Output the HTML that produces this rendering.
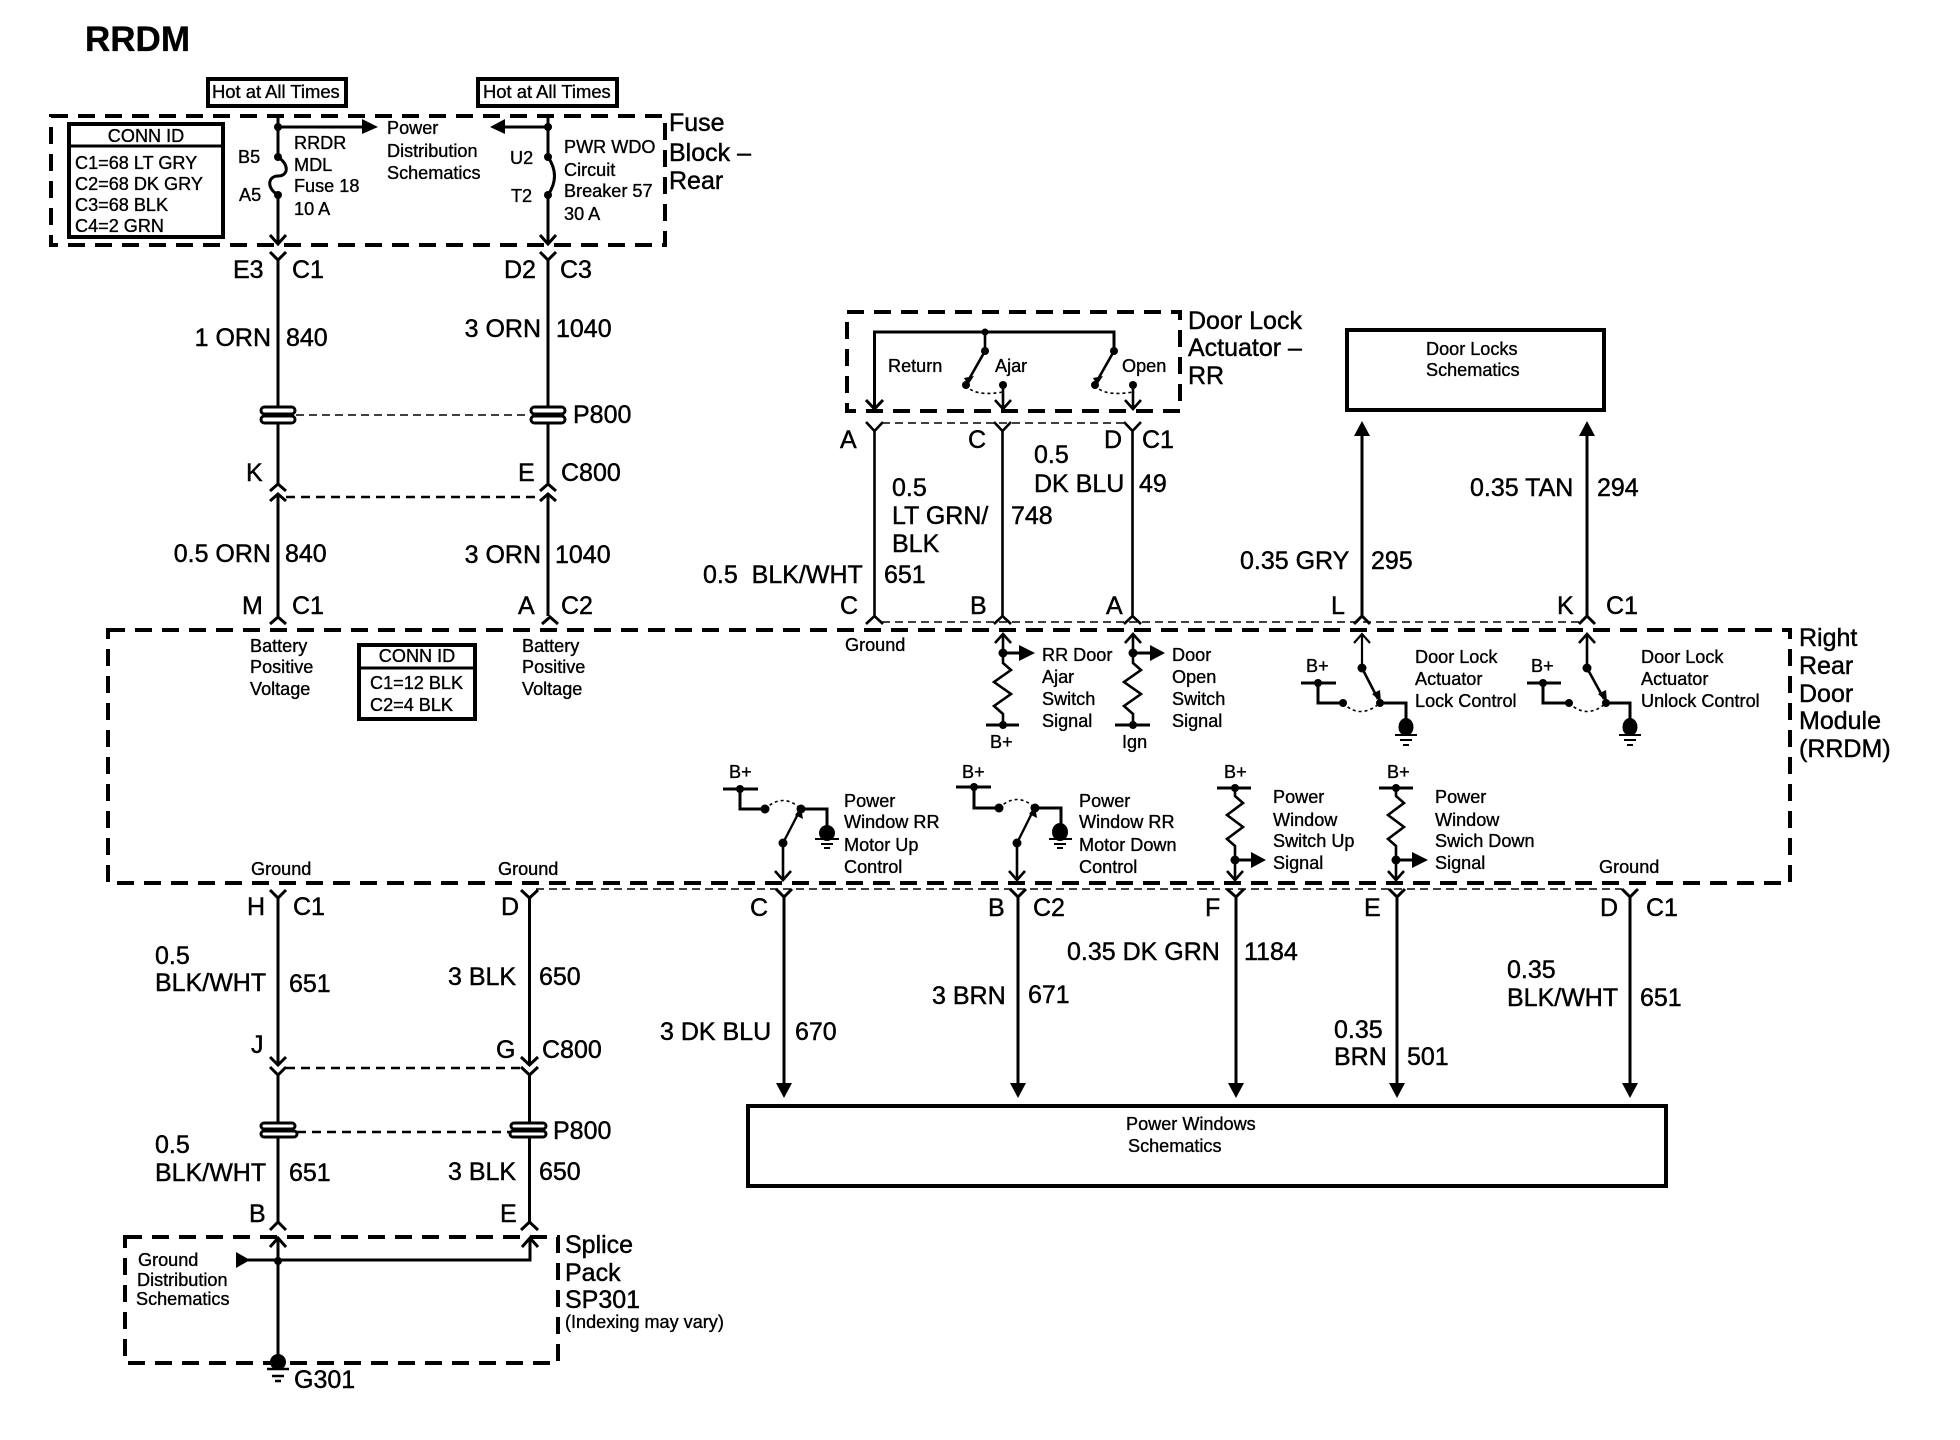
<!DOCTYPE html>
<html><head><meta charset="utf-8"><title>RRDM</title>
<style>
html,body{margin:0;padding:0;background:#fff}
svg{display:block}
text{font-family:"Liberation Sans",Arial,sans-serif;fill:#000;stroke:#000}
.s{font-size:18.1px;stroke-width:.35px}
.l{font-size:25px;stroke-width:.45px}
.t{font-size:35px;font-weight:bold;stroke-width:.3px}
.w{fill:none;stroke:#000;stroke-width:3}
.n{fill:none;stroke:#000;stroke-width:2}
.d{fill:none;stroke:#000;stroke-width:4;stroke-dasharray:17 10}
.h{fill:none;stroke:#000;stroke-width:1.6;stroke-dasharray:8 5}
.h2{fill:none;stroke:#000;stroke-width:2.4;stroke-dasharray:9 6}
.a{fill:none;stroke:#000;stroke-width:1.6;stroke-dasharray:3 3}
.b{fill:none;stroke:#000;stroke-width:4}
.c{fill:#fff;stroke:#000;stroke-width:3}
.f{fill:#000;stroke:none}
</style></head><body>
<svg width="1960" height="1440" viewBox="0 0 1960 1440" xmlns="http://www.w3.org/2000/svg">
<rect width="1960" height="1440" fill="#fff"/>
<text class="t" x="85" y="51">RRDM</text>

<!-- hot boxes -->
<rect class="b" x="208" y="79" width="138" height="27"/>
<rect class="b" x="478" y="79" width="139" height="27"/>
<text class="s" x="212" y="98" style="font-size:18.4px">Hot at All Times</text>
<text class="s" x="483" y="98" style="font-size:18.4px">Hot at All Times</text>

<!-- fuse block -->
<rect class="d" x="51" y="116" width="614" height="129"/>
<rect class="b" x="69" y="124" width="154" height="113"/>
<path class="n" d="M69,146H223" style="stroke-width:3"/>
<text class="s" x="146" y="142" text-anchor="middle">CONN ID</text>
<text class="s" x="75" y="169">C1=68 LT GRY</text>
<text class="s" x="75" y="190">C2=68 DK GRY</text>
<text class="s" x="75" y="211">C3=68 BLK</text>
<text class="s" x="75" y="232">C4=2 GRN</text>

<path class="w" d="M278,116V157C290,165 288,176 278,176C268,176 266,188 278,195V243M278,127H364"/>
<path class="f" d="M362,119L378,127L362,134Z"/>
<circle class="f" cx="278" cy="127" r="4"/><circle class="f" cx="278" cy="157" r="4"/><circle class="f" cx="278" cy="195" r="4"/>
<path class="w" d="M270,235L278,244L286,235"/>
<path class="w" d="M548,116V157Q561,176 548,195V243M548,127H503"/>
<path class="f" d="M505,119L490,127L505,134Z"/>
<circle class="f" cx="548" cy="127" r="4"/><circle class="f" cx="548" cy="157" r="4"/><circle class="f" cx="548" cy="195" r="4"/>
<path class="w" d="M540,235L548,244L556,235"/>

<text class="s" x="238" y="163">B5</text>
<text class="s" x="239" y="201">A5</text>
<text class="s" x="294" y="149">RRDR</text>
<text class="s" x="294" y="171">MDL</text>
<text class="s" x="294" y="192">Fuse 18</text>
<text class="s" x="294" y="215">10 A</text>
<text class="s" x="387" y="134">Power</text>
<text class="s" x="387" y="157">Distribution</text>
<text class="s" x="387" y="179">Schematics</text>
<text class="s" x="510" y="164">U2</text>
<text class="s" x="511" y="202">T2</text>
<text class="s" x="564" y="153">PWR WDO</text>
<text class="s" x="564" y="176">Circuit</text>
<text class="s" x="564" y="197">Breaker 57</text>
<text class="s" x="564" y="220">30 A</text>
<text class="l" x="669" y="131">Fuse</text>
<text class="l" x="669" y="161">Block –</text>
<text class="l" x="669" y="189">Rear</text>

<!-- upper left wires -->
<path class="w" d="M270,252L278,260L286,252M278,260V484M270,491L278,484L286,491M270,501L278,494L286,501M278,494V616M270,624L278,617L286,624"/>
<path class="w" d="M540,252L548,260L556,252M548,260V484M540,491L548,484L556,491M540,501L548,494L556,501M548,494V616M542,624L550,617L558,624"/>
<path class="h" d="M296,415H530"/>
<path class="h2" d="M286,497H540"/>
<rect class="c" x="261" y="407" width="34" height="7" rx="3.5"/><rect class="c" x="261" y="416" width="34" height="7" rx="3.5"/>
<rect class="c" x="531" y="407" width="34" height="7" rx="3.5"/><rect class="c" x="531" y="416" width="34" height="7" rx="3.5"/>

<text class="l" x="233" y="278">E3</text><text class="l" x="292" y="278">C1</text>
<text class="l" x="504" y="278">D2</text><text class="l" x="560" y="278">C3</text>
<text class="l" x="271" y="346" text-anchor="end">1 ORN</text><text class="l" x="286" y="346">840</text>
<text class="l" x="541" y="337" text-anchor="end">3 ORN</text><text class="l" x="556" y="337">1040</text>
<text class="l" x="573" y="423">P800</text>
<text class="l" x="246" y="481">K</text><text class="l" x="518" y="481">E</text><text class="l" x="561" y="481">C800</text>
<text class="l" x="271" y="562" text-anchor="end">0.5 ORN</text><text class="l" x="285" y="562">840</text>
<text class="l" x="541" y="563" text-anchor="end">3 ORN</text><text class="l" x="555" y="563">1040</text>
<text class="l" x="242" y="614">M</text><text class="l" x="292" y="614">C1</text>
<text class="l" x="518" y="614">A</text><text class="l" x="561" y="614">C2</text>

<!-- RRDM module -->
<rect class="d" x="108" y="630" width="1682" height="253"/>
<text class="l" x="1799" y="646">Right</text>
<text class="l" x="1799" y="674">Rear</text>
<text class="l" x="1799" y="702">Door</text>
<text class="l" x="1799" y="729">Module</text>
<text class="l" x="1799" y="757">(RRDM)</text>
<text class="s" x="250" y="652">Battery</text><text class="s" x="250" y="673">Positive</text><text class="s" x="250" y="695">Voltage</text>
<text class="s" x="522" y="652">Battery</text><text class="s" x="522" y="673">Positive</text><text class="s" x="522" y="695">Voltage</text>
<rect class="b" x="359" y="645" width="116" height="74"/>
<path class="n" d="M359,668H475" style="stroke-width:3"/>
<text class="s" x="417" y="662" text-anchor="middle">CONN ID</text>
<text class="s" x="370" y="689">C1=12 BLK</text>
<text class="s" x="370" y="711">C2=4 BLK</text>
<text class="s" x="251" y="875">Ground</text>
<text class="s" x="498" y="875">Ground</text>
<text class="s" x="1599" y="873">Ground</text>
<text class="s" x="845" y="651">Ground</text>

<!-- door lock actuator -->
<rect class="d" x="847" y="312" width="333" height="99"/>
<text class="l" x="1188" y="329">Door Lock</text>
<text class="l" x="1188" y="356">Actuator –</text>
<text class="l" x="1188" y="384">RR</text>
<path class="w" d="M874.5,409V332H1114V351"/>
<path class="w" d="M866,400L874.5,409L883,400"/>
<path class="n" d="M985,332V351L968,381M1114,351L1097,381" style="stroke-width:2.6"/>
<path class="f" d="M964,378L968,385L974,376Z M1093,378L1097,385L1103,376Z"/>
<circle class="f" cx="985" cy="332" r="3.5"/>
<circle class="f" cx="985" cy="351" r="4"/><circle class="f" cx="1114" cy="351" r="4"/>
<circle class="f" cx="966" cy="385" r="4"/><circle class="f" cx="1003" cy="385" r="4"/>
<circle class="f" cx="1095" cy="385" r="4"/><circle class="f" cx="1133" cy="385" r="4"/>
<path class="a" d="M966,385Q974,397 1003,392M1095,385Q1103,397 1133,392"/>
<path class="w" d="M1003,385V409M995,400L1003,409L1011,400M1133,385V409M1125,400L1133,409L1141,400" style="stroke-width:2.6"/>
<text class="s" x="888" y="372">Return</text><text class="s" x="995" y="372">Ajar</text><text class="s" x="1122" y="372">Open</text>

<!-- door lock wires -->
<path class="h" d="M882,423H1125"/>
<path class="w" d="M866,422L874.5,431L883,422M874.5,431V618M866,624L874.5,616L883,624" style="stroke-width:2.6"/>
<path class="w" d="M994,422L1002.5,431L1011,422M1002.5,431V618M994,624L1002.5,616L1011,624" style="stroke-width:2.6"/>
<path class="w" d="M1124,422L1132.5,431L1141,422M1132.5,431V618M1124,624L1132.5,616L1141,624" style="stroke-width:2.6"/>
<path class="h" d="M882,622H1580"/>
<path class="w" d="M1354,624L1362,616L1370,624M1579,624L1587,616L1595,624"/>
<path class="w" d="M1362,616V432M1587,616V432"/>
<path class="f" d="M1362,421L1354,436H1370Z M1587,421L1579,436H1595Z"/>
<text class="l" x="840" y="448">A</text><text class="l" x="968" y="448">C</text><text class="l" x="1104" y="448">D</text><text class="l" x="1142" y="448">C1</text>
<text class="l" x="1034" y="463">0.5</text><text class="l" x="1034" y="492">DK BLU</text><text class="l" x="1139" y="492">49</text>
<text class="l" x="892" y="496">0.5</text><text class="l" x="892" y="524">LT GRN/</text><text class="l" x="892" y="552">BLK</text><text class="l" x="1011" y="524">748</text>
<text class="l" x="703" y="583" xml:space="preserve">0.5  BLK/WHT</text><text class="l" x="884" y="583">651</text>
<text class="l" x="840" y="614">C</text><text class="l" x="970" y="614">B</text><text class="l" x="1106" y="614">A</text><text class="l" x="1331" y="614">L</text><text class="l" x="1557" y="614">K</text><text class="l" x="1606" y="614">C1</text>
<text class="l" x="1240" y="569">0.35 GRY</text><text class="l" x="1371" y="569">295</text>
<text class="l" x="1470" y="496">0.35 TAN</text><text class="l" x="1597" y="496">294</text>

<!-- door locks box -->
<rect class="b" x="1347" y="330" width="257" height="80"/>
<text class="s" x="1426" y="355">Door Locks</text>
<text class="s" x="1426" y="376">Schematics</text>

<!-- inside RRDM: resistive inputs -->
<path class="w" d="M1003,634V653M995,643L1003,634L1011,643" style="stroke-width:2.6"/>
<path class="w" d="M1133,634V653M1125,643L1133,634L1141,643" style="stroke-width:2.6"/>
<path class="w" d="M1003,653H1021M1133,653H1152"/>
<path class="f" d="M1019,645L1035,653L1019,661Z M1150,645L1165,653L1150,661Z"/>
<path class="n" d="M1003,653V663L1011,670L994,682L1011,694L994,706L1003,714V725M1133,653V663L1141,670L1124,682L1141,694L1124,706L1133,714V725" style="stroke-width:2.6"/>
<path class="w" d="M986,725H1019M1115,725H1150"/>
<circle class="f" cx="1003" cy="653" r="4.5"/><circle class="f" cx="1133" cy="653" r="4.5"/>
<circle class="f" cx="1003" cy="725" r="4"/><circle class="f" cx="1133" cy="725" r="4"/>
<text class="s" x="990" y="748">B+</text><text class="s" x="1122" y="748">Ign</text>
<text class="s" x="1042" y="661">RR Door</text><text class="s" x="1042" y="683">Ajar</text><text class="s" x="1042" y="705">Switch</text><text class="s" x="1042" y="727">Signal</text>
<text class="s" x="1172" y="661">Door</text><text class="s" x="1172" y="683">Open</text><text class="s" x="1172" y="705">Switch</text><text class="s" x="1172" y="727">Signal</text>

<!-- door lock control switches -->
<path class="n" d="M1362,634V668M1354,643L1362,634L1370,643" style="stroke-width:2.2"/>
<path class="n" d="M1362,668L1378,699" style="stroke-width:2.6"/>
<path class="f" d="M1372,694L1381,702L1380,690Z"/>
<circle class="f" cx="1362" cy="668" r="4.5"/><circle class="f" cx="1380" cy="703" r="4"/><circle class="f" cx="1343" cy="703" r="4"/>
<path class="a" d="M1343,703Q1360,720 1380,703"/>
<path class="w" d="M1301,683H1336M1318,683V703H1343M1380,703H1406V720"/>
<circle class="f" cx="1318" cy="683" r="4"/>
<ellipse class="f" cx="1406" cy="727" rx="7.5" ry="9"/>
<path class="n" d="M1395,735H1417M1400,740H1412M1403,745H1409"/>
<text class="s" x="1306" y="672">B+</text>
<text class="s" x="1415" y="663">Door Lock</text><text class="s" x="1415" y="685">Actuator</text><text class="s" x="1415" y="707">Lock Control</text>

<path class="w" d="M1587,634V668M1579,643L1587,634L1595,643" style="stroke-width:2.6"/>
<path class="n" d="M1587,668L1604,699" style="stroke-width:2.6"/>
<path class="f" d="M1598,694L1607,702L1606,690Z"/>
<circle class="f" cx="1587" cy="668" r="4.5"/><circle class="f" cx="1606" cy="703" r="4"/><circle class="f" cx="1569" cy="703" r="4"/>
<path class="a" d="M1569,703Q1587,720 1606,703"/>
<path class="w" d="M1527,683H1561M1543,683V703H1569M1606,703H1630V720"/>
<circle class="f" cx="1543" cy="683" r="4"/>
<ellipse class="f" cx="1630" cy="727" rx="7.5" ry="9"/>
<path class="n" d="M1619,735H1641M1624,740H1636M1627,745H1633"/>
<text class="s" x="1531" y="672">B+</text>
<text class="s" x="1641" y="663">Door Lock</text><text class="s" x="1641" y="685">Actuator</text><text class="s" x="1641" y="707">Unlock Control</text>

<!-- power window up/down -->
<path class="w" d="M723,789H758M740,789V809H765M801,809H827V826"/>
<circle class="f" cx="740" cy="789" r="4"/><circle class="f" cx="765" cy="809" r="4.5"/><circle class="f" cx="801" cy="809" r="4.5"/><circle class="f" cx="783" cy="843" r="4.5"/>
<path class="a" d="M765,809Q783,792 801,809"/>
<path class="n" d="M783,843L798,814" style="stroke-width:2.4"/>
<path class="f" d="M795,815L801,807L803,819Z"/>
<ellipse class="f" cx="827" cy="833" rx="8" ry="8"/>
<path class="n" d="M815,839H839M821,844H833M824,848H830"/>
<path class="w" d="M783,843V879M775,871L783,880L791,871" style="stroke-width:2.6"/>
<text class="s" x="729" y="778">B+</text>
<text class="s" x="844" y="807">Power</text><text class="s" x="844" y="828">Window RR</text><text class="s" x="844" y="851">Motor Up</text><text class="s" x="844" y="873">Control</text>

<path class="w" d="M956,787H991M974,787V808H999M1035,808H1061V825"/>
<circle class="f" cx="974" cy="787" r="4"/><circle class="f" cx="999" cy="808" r="4.5"/><circle class="f" cx="1035" cy="808" r="4.5"/><circle class="f" cx="1017" cy="843" r="4.5"/>
<path class="a" d="M999,808Q1017,791 1035,808"/>
<path class="n" d="M1017,843L1032,813" style="stroke-width:2.4"/>
<path class="f" d="M1029,814L1035,806L1037,818Z"/>
<ellipse class="f" cx="1060" cy="832" rx="8" ry="9"/>
<path class="n" d="M1049,839H1072M1054,844H1066M1057,848H1063"/>
<path class="w" d="M1017,843V879M1009,871L1017,880L1025,871" style="stroke-width:2.6"/>
<text class="s" x="962" y="778">B+</text>
<text class="s" x="1079" y="807">Power</text><text class="s" x="1079" y="828">Window RR</text><text class="s" x="1079" y="851">Motor Down</text><text class="s" x="1079" y="873">Control</text>

<path class="w" d="M1217,788H1251M1379,788H1413"/>
<circle class="f" cx="1235" cy="788" r="4"/><circle class="f" cx="1396" cy="788" r="4"/>
<path class="n" d="M1235,788V796L1243,803L1227,815L1243,827L1227,839L1235,846V880M1396,788V796L1404,803L1388,815L1404,827L1388,839L1396,846V880" style="stroke-width:2.6"/>
<path class="w" d="M1235,860H1253M1396,860H1414"/>
<circle class="f" cx="1235" cy="860" r="4.5"/><circle class="f" cx="1396" cy="860" r="4.5"/>
<path class="f" d="M1251,852L1266,860L1251,868Z M1412,852L1428,860L1412,868Z"/>
<path class="w" d="M1227,871L1235,880L1243,871M1388,871L1396,880L1404,871" style="stroke-width:2.6"/>
<text class="s" x="1224" y="778">B+</text><text class="s" x="1387" y="778">B+</text>
<text class="s" x="1273" y="803">Power</text><text class="s" x="1273" y="826">Window</text><text class="s" x="1273" y="847">Switch Up</text><text class="s" x="1273" y="869">Signal</text>
<text class="s" x="1435" y="803">Power</text><text class="s" x="1435" y="826">Window</text><text class="s" x="1435" y="847">Swich Down</text><text class="s" x="1435" y="869">Signal</text>

<!-- lower wires to power windows -->
<path class="h" d="M536,889H1622"/>
<path class="w" d="M776,889L784,897L792,889M784,897V1085M1010,889L1018,897L1026,889M1018,897V1085M1227,889L1236,897L1244,889M1236,897V1085M1389,889L1397,897L1405,889M1397,897V1085M1622,889L1630,897L1638,889M1630,897V1085"/>
<path class="f" d="M776,1083H792L784,1098Z M1010,1083H1026L1018,1098Z M1228,1083H1244L1236,1098Z M1389,1083H1405L1397,1098Z M1622,1083H1638L1630,1098Z"/>
<rect class="b" x="748" y="1106" width="918" height="80"/>
<text class="s" x="1126" y="1130">Power Windows</text>
<text class="s" x="1128" y="1152">Schematics</text>
<text class="l" x="750" y="916">C</text><text class="l" x="988" y="916">B</text><text class="l" x="1033" y="916">C2</text><text class="l" x="1205" y="916">F</text><text class="l" x="1364" y="916">E</text><text class="l" x="1600" y="916">D</text><text class="l" x="1646" y="916">C1</text>
<text class="l" x="1067" y="960">0.35 DK GRN</text><text class="l" x="1244" y="960">1184</text>
<text class="l" x="932" y="1004">3 BRN</text><text class="l" x="1028" y="1003">671</text>
<text class="l" x="660" y="1040">3 DK BLU</text><text class="l" x="795" y="1040">670</text>
<text class="l" x="1507" y="978">0.35</text><text class="l" x="1507" y="1006">BLK/WHT</text><text class="l" x="1640" y="1006">651</text>
<text class="l" x="1334" y="1038">0.35</text><text class="l" x="1334" y="1065">BRN</text><text class="l" x="1407" y="1065">501</text>

<!-- lower left wires -->
<path class="w" d="M270,890L278,898L286,890M278,898V1065M270,1057L278,1065L286,1057M270,1067L278,1075L286,1067M278,1075V1222M270,1230L278,1222L286,1230"/>
<path class="w" d="M521,890L529.5,898L538,890M529.5,898V1065M521,1057L529.5,1065L538,1057M521,1067L529.5,1075L538,1067M529.5,1075V1222M521,1230L529.5,1222L538,1230"/>
<path class="h2" d="M286,1068H521"/>
<path class="h2" d="M297,1132H510"/>
<rect class="c" x="261" y="1123" width="34" height="6" rx="3"/><rect class="c" x="261" y="1131" width="36" height="6" rx="3"/>
<rect class="c" x="511" y="1123" width="35" height="6" rx="3"/><rect class="c" x="510" y="1131" width="36" height="6" rx="3"/>
<text class="l" x="247" y="915">H</text><text class="l" x="293" y="915">C1</text><text class="l" x="501" y="915">D</text>
<text class="l" x="155" y="964">0.5</text><text class="l" x="155" y="991">BLK/WHT</text><text class="l" x="289" y="992">651</text>
<text class="l" x="448" y="985">3 BLK</text><text class="l" x="539" y="985">650</text>
<text class="l" x="251" y="1053">J</text><text class="l" x="496" y="1058">G</text><text class="l" x="542" y="1058">C800</text>
<text class="l" x="553" y="1139">P800</text>
<text class="l" x="155" y="1153">0.5</text><text class="l" x="155" y="1181">BLK/WHT</text><text class="l" x="289" y="1181">651</text>
<text class="l" x="448" y="1180">3 BLK</text><text class="l" x="539" y="1180">650</text>
<text class="l" x="249" y="1222">B</text><text class="l" x="500" y="1222">E</text>

<!-- splice pack -->
<rect class="d" x="125" y="1237" width="433" height="126"/>
<path class="w" d="M278,1238V1355M270,1247L278,1238L286,1247M530,1238V1260H247M522,1247L530,1238L538,1247"/>
<path class="f" d="M236,1252L250,1260L236,1268Z"/>
<circle class="f" cx="278" cy="1261" r="4"/>
<circle class="f" cx="278" cy="1362" r="8"/>
<path class="n" d="M267,1369H289M272,1376H284M275,1381H281" style="stroke-width:2.4"/>
<text class="s" x="138" y="1266">Ground</text><text class="s" x="137" y="1286">Distribution</text><text class="s" x="136" y="1305">Schematics</text>
<text class="l" x="565" y="1253">Splice</text><text class="l" x="565" y="1281">Pack</text><text class="l" x="565" y="1308">SP301</text>
<text class="s" x="565" y="1328">(Indexing may vary)</text>
<text class="l" x="294" y="1388">G301</text>
</svg>
</body></html>
